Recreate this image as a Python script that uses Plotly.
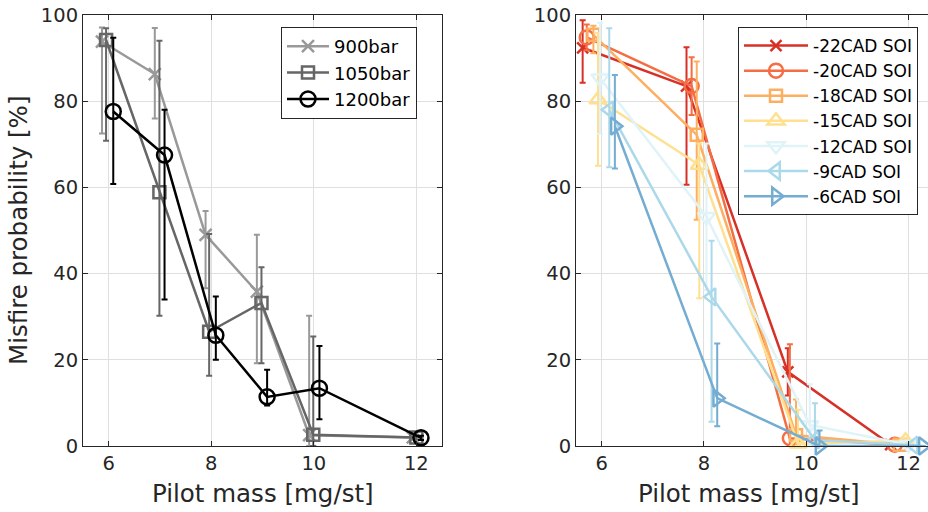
import plotly.graph_objects as go

# ---------------- data: left panel (rail pressure) ----------------
p_names = ["900bar", "1050bar", "1200bar"]
x900 = [5.87, 6.90, 7.89, 8.89, 9.91, 11.93]
y900 = [93.8, 86.3, 49.0, 35.8, 2.5, 2.0]
up900 = [3.3, 10.7, 5.5, 13.2, 27.7, 0.5]
dn900 = [21.3, 10.3, 12.4, 16.6, 2.5, 0.5]

x1050 = [5.95, 6.99, 7.96, 8.98, 9.99, 12.0]
y1050 = [94.2, 58.9, 26.5, 33.2, 2.6, 2.0]
up1050 = [2.7, 35.1, 22.7, 8.3, 22.8, 0.5]
dn1050 = [23.4, 28.7, 10.2, 14.0, 2.6, 0.5]

x1200 = [6.09, 7.09, 8.09, 9.09, 10.11, 12.09]
y1200 = [77.6, 67.5, 25.7, 11.4, 13.4, 1.9]
up1200 = [17.1, 10.5, 9.0, 6.3, 9.8, 0.5]
dn1200 = [16.8, 33.5, 5.7, 2.0, 7.2, 0.5]

# ---------------- data: right panel (start of injection) ----------------
s_names = ["-22CAD SOI", "-20CAD SOI", "-18CAD SOI", "-15CAD SOI",
           "-12CAD SOI", "-9CAD SOI", "-6CAD SOI"]
x22 = [5.63, 7.66, 9.64, 11.65]
y22 = [92.4, 83.5, 17.2, 0.3]
up22 = [6.4, 9.0, 5.5, 0]
dn22 = [8.1, 22.9, 5.5, 0]

x20 = [5.71, 7.76, 9.68, 11.73]
y20 = [94.8, 83.5, 1.8, 0.3]
up20 = [3.0, 6.7, 21.8, 0]
dn20 = [3.0, 6.7, 1.8, 0]

x18 = [5.84, 7.86, 9.80, 11.83]
y18 = [95.4, 72.2, 2.5, 0.3]
up18 = [2.1, 17.0, 8.3, 0]
dn18 = [4.3, 19.7, 2.5, 0]

x15 = [5.93, 7.91, 9.84, 11.94]
y15 = [80.4, 65.2, 0.5, 1.2]
up15 = [15.4, 5.0, 7.9, 0.5]
dn15 = [15.4, 30.9, 0.5, 1.2]

x12 = [5.97, 8.05, 10.07, 12.0]
y12 = [85.3, 53.2, 4.9, 0.3]
up12 = [12.9, 17.0, 9.4, 0]
dn12 = [12.9, 17.0, 4.9, 0.3]

x9 = [6.15, 8.15, 10.17, 12.1]
y9 = [78.0, 34.6, 1.4, 0.2]
up9 = [18.9, 13.0, 8.5, 0]
dn9 = [13.3, 29.0, 1.4, 0]

x6 = [6.26, 8.26, 10.26, 12.28]
y6 = [74.2, 11.1, 0.0, 0.0]
up6 = [11.9, 12.7, 3.6, 0]
dn6 = [9.8, 6.5, 0, 0]

x_ticks = [6, 8, 10, 12]
y_ticks = [0, 20, 40, 60, 80, 100]

FONT = "DejaVu Sans"
AX = "#262626"
GRID = "#dfdfdf"

left_series = [
    (p_names[0], x900, y900, up900, dn900, "#999999", "x-thin", 12),
    (p_names[1], x1050, y1050, up1050, dn1050, "#666666", "square-open", 12),
    (p_names[2], x1200, y1200, up1200, dn1200, "#000000", "circle-open", 15),
]
right_series = [
    (s_names[0], x22, y22, up22, dn22, "#d73027", "x-thin", 11),
    (s_names[1], x20, y20, up20, dn20, "#f46d43", "circle-open", 14),
    (s_names[2], x18, y18, up18, dn18, "#fdae61", "square-open", 12),
    (s_names[3], x15, y15, up15, dn15, "#fee090", "triangle-up-open", 15),
    (s_names[4], x12, y12, up12, dn12, "#e0f3f8", "triangle-down-open", 15),
    (s_names[5], x9, y9, up9, dn9, "#abd9e9", "triangle-left-open", 15),
    (s_names[6], x6, y6, up6, dn6, "#74add1", "triangle-right-open", 15),
]

fig = go.Figure()


def add(series, xa, ya, leg):
    for name, xs, ys, up, dn, col, sym, size in series:
        fig.add_trace(go.Scatter(
            x=xs, y=ys, name=name, mode="lines+markers",
            xaxis=xa, yaxis=ya, legend=leg, cliponaxis=False,
            line=dict(color=col, width=2.5),
            marker=dict(symbol=sym, size=size, color=col,
                        line=dict(color=col, width=2.5)),
            error_y=dict(type="data", symmetric=False, array=up,
                         arrayminus=dn, color=col, thickness=2, width=3),
        ))


add(left_series, "x", "y", "legend")
add(right_series, "x2", "y2", "legend2")

y_dom = [66 / 512, 497 / 512]
common = dict(showgrid=True, gridcolor=GRID, gridwidth=1, zeroline=False,
              showline=True, linecolor=AX, linewidth=1, ticks="inside",
              ticklen=5, tickcolor=AX, tickwidth=1, automargin=False,
              tickfont=dict(family=FONT, size=19.5, color=AX))

fig.update_layout(
    width=928, height=512,
    margin=dict(l=0, r=0, t=0, b=0, pad=0, autoexpand=False),
    paper_bgcolor="white", plot_bgcolor="white",
    font=dict(family=FONT, color=AX),
    xaxis=dict(domain=[83 / 928, 442 / 928], range=[5.5, 12.5],
               tickvals=x_ticks, anchor="y", mirror="ticks", **common),
    yaxis=dict(domain=y_dom, range=[0, 100], tickvals=y_ticks,
               anchor="x", mirror="ticks", **common),
    xaxis2=dict(domain=[576 / 928, 1.0], range=[5.5, 12.38],
                tickvals=x_ticks, anchor="y2", mirror="ticks", **common),
    yaxis2=dict(domain=y_dom, range=[0, 100], tickvals=y_ticks,
                anchor="x2", mirror=False, **common),
    legend=dict(x=281 / 928, y=1 - 27 / 512, xanchor="left", yanchor="top",
                bgcolor="white", bordercolor=AX, borderwidth=1,
                font=dict(family=FONT, size=18, color="#000000"),
                tracegroupgap=0, itemwidth=42),
    legend2=dict(x=738 / 928, y=1 - 27 / 512, xanchor="left", yanchor="top",
                 bgcolor="white", bordercolor=AX, borderwidth=1,
                 font=dict(family=FONT, size=17, color="#000000"),
                 tracegroupgap=0, itemwidth=64),
    showlegend=True,
)

# axis titles
for xc in [(83 + 442) / 2 / 928, (576 + 928) / 2 / 928 - 0.003]:
    fig.add_annotation(text="Pilot mass [mg/st]", xref="paper", yref="paper",
                       x=xc, y=0, xanchor="center", yanchor="bottom",
                       yshift=2, showarrow=False,
                       font=dict(family=FONT, size=24.5, color=AX))
fig.add_annotation(text="Misfire probability [%]", xref="paper", yref="paper",
                   x=2 / 928, y=(y_dom[0] + y_dom[1]) / 2, xanchor="left",
                   yanchor="middle", textangle=-90, showarrow=False,
                   font=dict(family=FONT, size=24.5, color=AX))

fig.write_html("out.html")
